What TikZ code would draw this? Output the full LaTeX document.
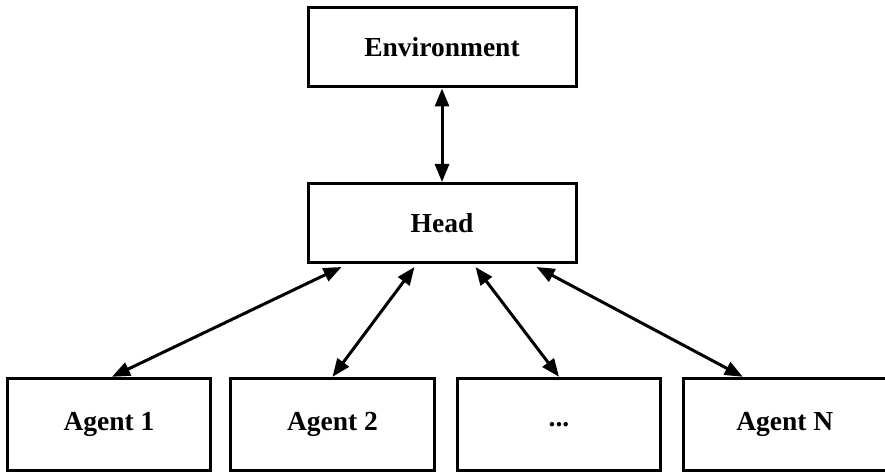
\documentclass[tikz,border=0pt]{standalone}
\usepackage{fontspec}
\setmainfont{Liberation Serif}
\usetikzlibrary{arrows.meta}
\begin{document}
\begin{tikzpicture}[x=1pt,y=-1pt,
  box/.style={draw, line width=3pt, inner sep=0pt, font=\fontsize{27.5}{30}\selectfont\bfseries},
  link/.style={line width=3pt, {Triangle[length=18pt,width=14pt]}-{Triangle[length=18pt,width=14pt]}}]
\useasboundingbox (0,0) rectangle (885,473);
\node[box, minimum width=268pt, minimum height=79pt] (env) at (442,47.5) {Environment};
\node[box, minimum width=268pt, minimum height=79pt] (head) at (442,223) {Head};
\node[box, minimum width=203pt, minimum height=92pt] (a1) at (109,424.3) {Agent 1};
\node[box, minimum width=204pt, minimum height=92pt] (a2) at (332.5,424.3) {Agent 2};
\node[box, minimum width=203pt, minimum height=92pt] (dots) at (559,424.3) {...};
\node[box, minimum width=203pt, minimum height=92pt] (aN) at (784.8,424.3) {Agent N};
\draw[link] (env.south) -- (head.north);
\draw[link] ([xshift=3pt]a1.north) -- ([xshift=35pt,yshift=-3pt]head.south west);
\draw[link] (a2.north) -- ([xshift=108pt,yshift=-3pt]head.south west);
\draw[link] (dots.north) -- ([xshift=169pt,yshift=-3pt]head.south west);
\draw[link] ([xshift=-42pt]aN.north) -- ([xshift=230pt,yshift=-3pt]head.south west);
\end{tikzpicture}
\end{document}
